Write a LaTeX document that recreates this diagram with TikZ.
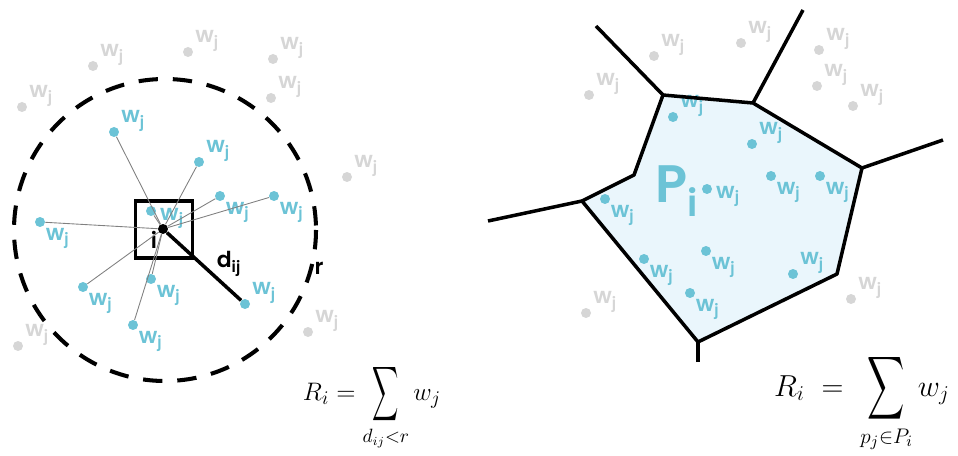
\documentclass[tikz,border=0pt]{standalone}
\usepackage{fontspec}
\setsansfont{Poppins}[BoldFont={Poppins SemiBold}]
\usepackage{amsmath}
\usepackage{graphicx}
\definecolor{dotblue}{HTML}{6CC3D6}
\definecolor{dotgray}{HTML}{D6D6D6}
\definecolor{cellfill}{HTML}{EAF6FC}
\newcommand{\tallsum}[2]{\mathop{\vcenter{\hbox{\scalebox{#1}[#2]{$\displaystyle\sum$}}}}\limits}
\tikzset{
  dot/.style={circle,inner sep=0pt,minimum size=0.2cm},
  bluedot/.style={dot,fill=dotblue},
  graydot/.style={dot,fill=dotgray},
  wlab/.style={font=\sffamily\bfseries\fontsize{12.5}{12}\selectfont,inner sep=0pt},
  gur/.style={label={[wlab,text=dotgray,anchor=south west,xshift=1pt]east:w\textsubscript{j}}},
  bur/.style={label={[wlab,text=dotblue,anchor=south west,xshift=1pt]east:w\textsubscript{j}}},
  blr/.style={label={[wlab,text=dotblue,anchor=north west,xshift=1pt,yshift=-1pt]south east:w\textsubscript{j}}},
  br/.style={label={[wlab,text=dotblue,anchor=north west,xshift=2pt,yshift=2pt]east:w\textsubscript{j}}},
  edge/.style={line width=2pt},
  spoke/.style={gray,line width=0.5pt}
}
\begin{document}
\begin{tikzpicture}[x=0.02cm,y=-0.02cm]
  \useasboundingbox (0,0) rectangle (958,456);
  % left: search radius
  \draw[line width=2.3pt,dash pattern=on 11pt off 8.5pt] (165,230) circle (151);
  \foreach \x/\y in {93/66,188/52,273/59,22/107,271/98,347/177,18/346,308/332}
    \node[graydot,gur] at (\x,\y) {};
  \node[draw,line width=2pt,minimum size=1.14cm,inner sep=0pt] (box) at (164,229.5) {};
  \node[circle,fill=black,inner sep=0pt,minimum size=0.2cm] (i) at (163,229) {};
  \node[font=\sffamily\bfseries\fontsize{12.5}{12}\selectfont,inner sep=0pt] (ilab) at (154,240) {i};
  \foreach \n/\x/\y/\pos in {1/114/132/bur,2/199/162/bur,3/220/196/blr,4/274/196/blr,
      5/40/222/blr,6/151/211/br,7/83/287/blr,8/151/279/blr,9/133/325/blr}
    \node[bluedot,\pos] (b\n) at (\x,\y) {};
  \foreach \n in {1,...,9}
    \draw[spoke] (i) -- (b\n);
  \node[bluedot,bur] (b10) at (245,304) {};
  \draw[line width=2pt] (i) -- (b10);
  \node[font=\sffamily\bfseries\fontsize{12.5}{12}\selectfont,inner sep=0pt] (dlab) at (229,264) {d\textsubscript{ij}};
  \node[font=\sffamily\bfseries\fontsize{12.5}{12}\selectfont,inner sep=0pt] (rlab) at (319,268) {r};
  \node[font=\fontsize{15}{17}\selectfont] (suma) at (372,407) {$\displaystyle R_i = \tallsum{0.72}{1.5}_{d_{ij}<r} w_j$};
  % right: voronoi cell
  \coordinate (A) at (663,95);
  \coordinate (B) at (753,103);
  \coordinate (C) at (862,168);
  \coordinate (D) at (837,274);
  \coordinate (E) at (698,342);
  \coordinate (F) at (582,201);
  \coordinate (G) at (634,175);
  \fill[cellfill] (A) -- (B) -- (C) -- (D) -- (E) -- (F) -- (G) -- cycle;
  \coordinate (A1) at (596,26);
  \coordinate (B1) at (803,10);
  \coordinate (C1) at (943,140);
  \coordinate (E1) at (698,362);
  \coordinate (F1) at (488,221);
  \draw[edge] (A1) -- (A);
  \draw[edge] (B1) -- (B);
  \draw[edge] (C1) -- (C);
  \draw[edge] (E1) -- (E);
  \draw[edge] (F1) -- (F);
  \node[font=\sffamily\bfseries\fontsize{30}{30}\selectfont,text=dotblue,inner sep=0pt,anchor=base west] (plab) at (655,203) {P\textsubscript{i}};
  \foreach \x/\y in {589/95,654/56,741/43,819/50,817/86,853/106,586/313,851/299}
    \node[graydot,gur] at (\x,\y) {};
  \foreach \n/\x/\y/\pos in {1/673/117/bur,2/752/144/bur,3/771/176/blr,4/820/176/blr,5/707/189/br,
      6/605/199/blr,7/706/251/blr,8/644/259/blr,9/690/293/blr,10/793/274/bur}
    \node[bluedot,\pos] (c\n) at (\x,\y) {};
  \draw[edge,line join=round] (A) -- (B) -- (C) -- (D) -- (E) -- (F) -- (G) -- cycle;
  \node[font=\fontsize{18}{22}\selectfont] (sumb) at (862,403) {$\displaystyle R_i \;=\; \tallsum{0.85}{1.45}_{p_j\in P_i} w_j$};
\end{tikzpicture}
\end{document}
